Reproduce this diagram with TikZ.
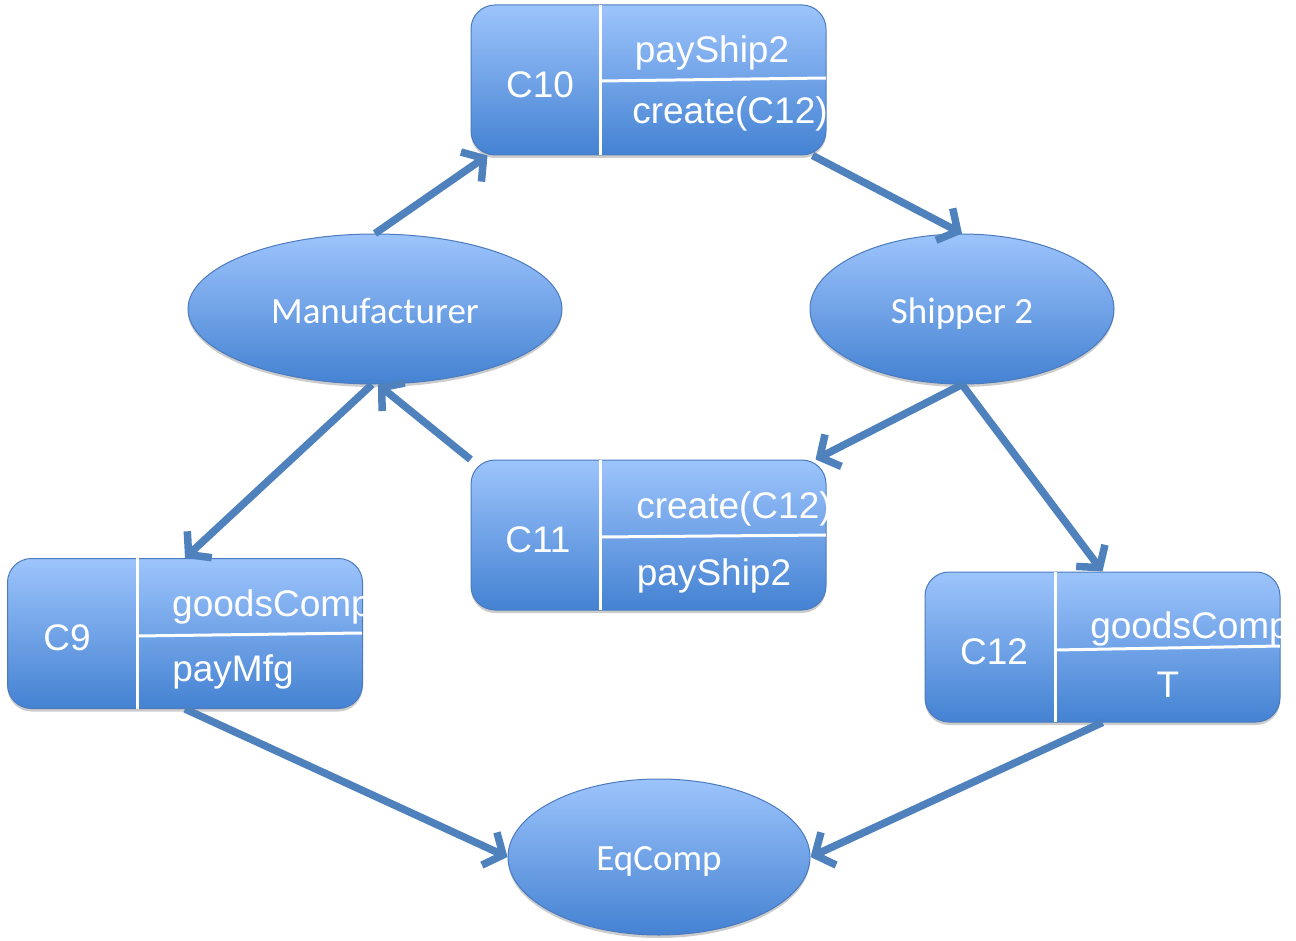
\documentclass[tikz,border=0pt]{standalone}
\usepackage{fontspec}
\setmainfont{Liberation Sans}
\newfontfamily\ellfont{Carlito}
\usetikzlibrary{shapes.geometric,arrows.meta,shadows}
\definecolor{cm_top}{RGB}{157,196,252}
\definecolor{cm_bot}{RGB}{68,130,210}
\definecolor{cm_edge}{RGB}{75,123,190}
\definecolor{cm_arrow}{RGB}{79,129,189}
\tikzstyle{role}=[ellipse,inner sep=0pt,top color=cm_top,bottom color=cm_bot,
  draw=cm_edge,line width=1pt,text=white,
  drop shadow={shadow xshift=0pt,shadow yshift=-3pt,opacity=0.2,fill=black}]
\tikzstyle{cbox}=[rectangle,rounded corners=24pt,minimum width=355pt,minimum height=150pt,
  top color=cm_top,bottom color=cm_bot,draw=cm_edge,line width=1pt,
  drop shadow={shadow xshift=0pt,shadow yshift=-3pt,opacity=0.2,fill=black}]
\tikzstyle{sep}=[white,line width=3pt]
\tikzstyle{lbl}=[anchor=base,inner sep=0pt,text=white,font=\fontsize{37}{40}\selectfont]
\tikzstyle{rlbl}=[anchor=base,inner sep=0pt,text=white,font=\ellfont\fontsize{37}{40}\selectfont]
\tikzstyle{flow}=[cm_arrow,line width=7.5pt,-{Straight Barb[length=15pt,width=36pt]}]

\begin{document}
\begin{tikzpicture}[x=1pt,y=-1pt]
  \useasboundingbox (0,0) rectangle (1296,941);
  % roles
  \node [style=role,minimum width=374pt,minimum height=150pt] (0) at (375,309) {};
  \node [style=role,minimum width=304pt,minimum height=150pt] (1) at (962,309) {};
  \node [style=role,minimum width=302pt,minimum height=156pt] (2) at (659,857) {};
  \node [style=rlbl] (0a) at (375,324) {Manufacturer};
  \node [style=rlbl] (1a) at (962,324) {Shipper 2};
  \node [style=rlbl] (2a) at (659,870) {EqComp};
  % commitments
  \node [style=cbox] (3) at (648.5,80) {};
  \node [style=cbox] (4) at (648.5,535) {};
  \node [style=cbox] (5) at (185,633.5) {};
  \node [style=cbox] (6) at (1102.5,647) {};
  % C10
  \begin{scope}
    \clip [rounded corners=24pt] (3.north west) rectangle (3.south east);
    \draw [style=sep] (600,5) -- (600,155);
    \draw [style=sep] (600,81) -- (826,78);
    \node [style=lbl] (3a) at (540,98) {C10};
    \node [style=lbl] (3b) at (712,63) {payShip2};
    \node [style=lbl] (3c) at (730,124) {create(C12)};
  \end{scope}
  % C11
  \begin{scope}
    \clip [rounded corners=24pt] (4.north west) rectangle (4.south east);
    \draw [style=sep] (600,460) -- (600,610);
    \draw [style=sep] (600,537) -- (826,535);
    \node [style=lbl] (4a) at (538,552) {C11};
    \node [style=lbl] (4b) at (734,518) {create(C12)};
    \node [style=lbl] (4c) at (714,585) {payShip2};
  \end{scope}
  % C9
  \begin{scope}
    \clip [rounded corners=24pt] (5.north west) rectangle (5.south east);
    \draw [style=sep] (137,558) -- (137,709);
    \draw [style=sep] (137,636) -- (362,633);
    \node [style=lbl] (5a) at (67,650) {C9};
    \node [style=lbl] (5b) at (272,616) {goodsComp};
    \node [style=lbl] (5c) at (233,681) {payMfg};
  \end{scope}
  % C12
  \begin{scope}
    \clip [rounded corners=24pt] (6.north west) rectangle (6.south east);
    \draw [style=sep] (1055,572) -- (1055,722);
    \draw [style=sep] (1055,650) -- (1280,646);
    \node [style=lbl] (6a) at (994,664) {C12};
    \node [style=lbl] (6b) at (1190,638) {goodsComp};
    \node [style=lbl] (6c) at (1168,697) {T};
  \end{scope}
  % flows
  \draw [style=flow] (0.north) to ([xshift=17pt]3.south west);
  \draw [style=flow] ([xshift=-14pt]3.south east) to (1.north);
  \draw [style=flow] (1.south) to ([xshift=-11pt]4.north east);
  \draw [style=flow] (1.south) to (6.north);
  \draw [style=flow] (4.north west) to ([xshift=3pt]0.south);
  \draw [style=flow] ([xshift=-3pt]0.south) to (5.north);
  \draw [style=flow] (5.south) to (2.west);
  \draw [style=flow] (6.south) to (2.east);
\end{tikzpicture}
\end{document}
